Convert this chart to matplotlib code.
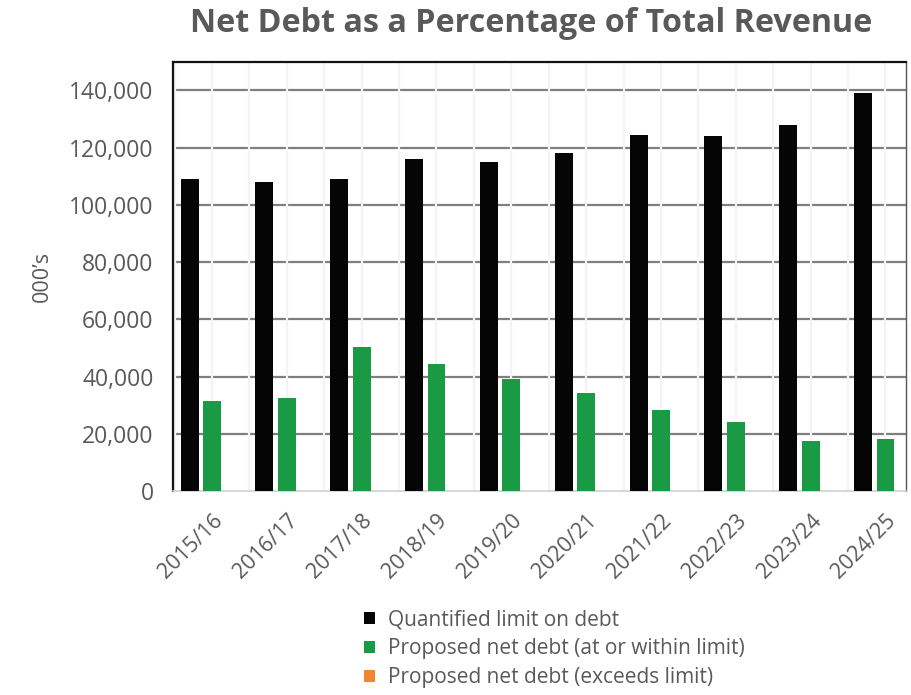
import matplotlib.pyplot as plt
import numpy as np

plt.rcParams['font.family'] = ['Open Sans', 'DejaVu Sans']

years = ['2015/16', '2016/17', '2017/18', '2018/19', '2019/20',
         '2020/21', '2021/22', '2022/23', '2023/24', '2024/25']
debt_limit = [109000, 108000, 109000, 116000, 115000,
              118000, 124300, 124000, 128000, 139200]
net_debt_within = [31500, 32500, 50300, 44400, 39300,
                   34300, 28400, 24000, 17600, 18200]
net_debt_exceeds = [0, 0, 0, 0, 0, 0, 0, 0, 0, 0]

text_grey = '#595959'
x = np.arange(len(years))
w = 0.24

fig = plt.figure(figsize=(9.11, 6.95), dpi=100)
ax = fig.add_axes([0.19, 0.2935, 0.805, 0.6175])

ax.bar(x - 0.30, debt_limit, w, color='#050505', label='Quantified limit on debt', zorder=3)
ax.bar(x, net_debt_within, w, color='#1b9a46', label='Proposed net debt (at or within limit)', zorder=3)
ax.bar(x + 0.30, net_debt_exceeds, w, color='#f2862c', label='Proposed net debt (exceeds limit)', zorder=3)

ax.set_xlim(-0.52, 9.28)
ax.set_ylim(0, 150000)
ax.set_yticks(np.arange(0, 140001, 20000))
ax.set_yticklabels([f'{v:,}' for v in range(0, 140001, 20000)])

# horizontal grid broken by faint vertical lines at half-category steps
for v in range(20000, 140001, 20000):
    ax.axhline(v, color='#7f7f7f', lw=1.6, zorder=1)
for xv in np.arange(-0.5, 9.6, 0.5):
    ax.axvline(xv, color='#f4f4f4', lw=1.6, zorder=2)

ax.set_xticks(x)
ax.set_xticklabels(years, rotation=45, ha='right', rotation_mode='anchor')
ax.tick_params(axis='both', length=0, colors=text_grey)
ax.tick_params(axis='y', labelsize=16.5, pad=14)
ax.tick_params(axis='x', labelsize=15.5, pad=14)

for side in ['left', 'top']:
    ax.spines[side].set_color('#111111')
    ax.spines[side].set_linewidth(1.6)
ax.spines['right'].set_color('#555555')
ax.spines['right'].set_linewidth(1.0)
ax.spines['bottom'].set_color('#d0d0d0')
ax.spines['bottom'].set_linewidth(1.2)

ax.set_ylabel("000\u2019s", fontsize=15.5, color=text_grey, labelpad=12)

fig.text(0.583, 0.966, 'Net Debt as a Percentage of Total Revenue',
         ha='center', va='center', fontsize=23.2, fontweight='bold', color=text_grey)

fig.legend(loc='upper left', bbox_to_anchor=(0.388, 0.138), frameon=False,
           fontsize=15, labelcolor=text_grey, handlelength=0.55, handleheight=0.55,
           handletextpad=0.6, labelspacing=0.38, borderpad=0)

fig.savefig('out.png', dpi=100)
